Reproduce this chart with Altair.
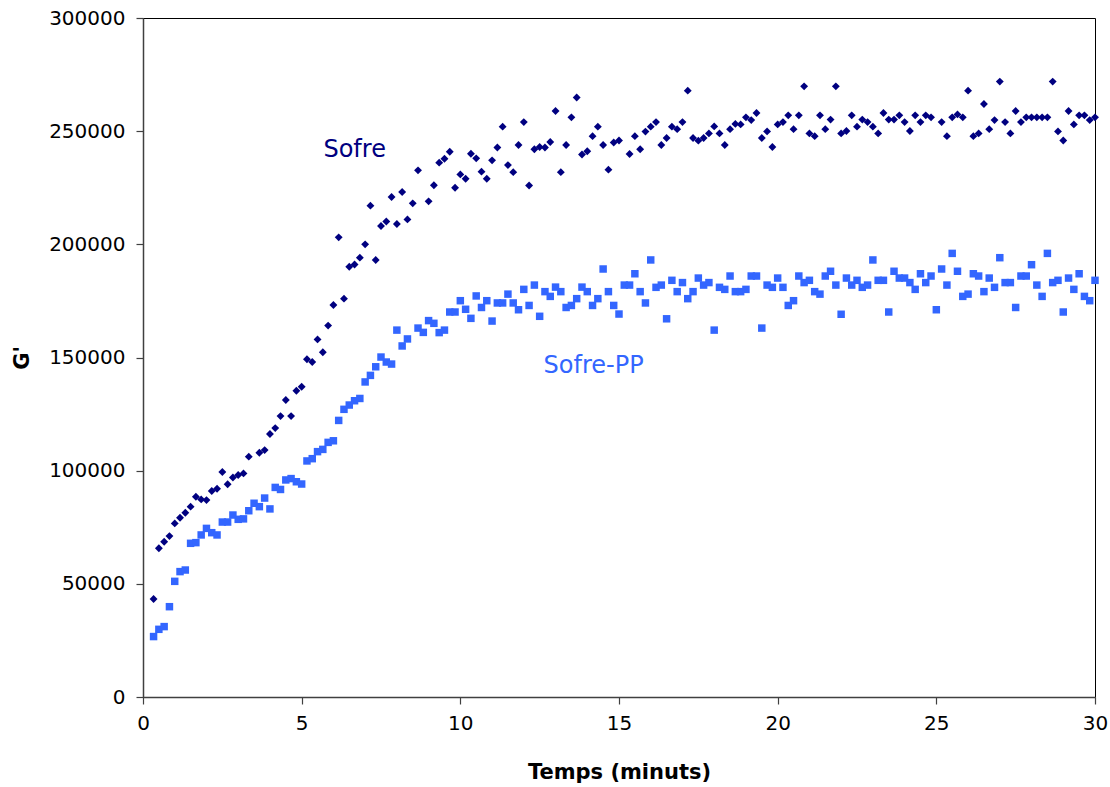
import altair as alt
import pandas as pd

# sampling: every 10 s, from 20 s to 1800 s
sample_seconds = list(range(20, 1801, 10))

sofre = [
    43300, 65700, 68600, 71100, 76700, 79200, 81400, 84100, 88500, 87300,
    87000, 91000, 92000, 99400, 94000, 97000, 98100, 98800, 106200, None,
    107900, 109100, 116200, 118800, 124100, 131200, 124100, 135300, 137100, 149200,
    148000, 158000, 152300, 164100, 173200, 203100, 176000, 190100, 191100, 194100,
    200000, 217100, 193100, 208100, 210100, 220900, 209000, 223100, 211000, 218100,
    232700, None, 219000, 226100, 236100, 237800, 240900, 225000, 230900, 229000,
    240000, 238000, 232100, 229000, 237100, 242800, 252000, 235000, 231900, 243900,
    254000, 226000, 242000, 243000, 242800, 245200, 258900, 231900, 243900, 256100,
    264900, 239700, 241100, 247800, 252000, 243900, 233000, 245000, 245900, None,
    239900, 247800, 242000, 249800, 252000, 254000, 243900, 247000, 252000, 250900,
    254000, 267900, 247000, 245800, 247000, 249000, 252100, 249000, 243900, 250900,
    253200, 253000, 256100, 254900, 258000, 247000, 249900, 243000, 253000, 254000,
    257000, 250900, 257000, 269800, 249000, 247800, 257000, 250900, 255100, 269800,
    249000, 250100, 257000, 252000, 255100, 254000, 252000, 249000, 258000, 255100,
    255100, 257000, 254000, 250100, 257000, 254000, 257000, 256100, None, 254000,
    247800, 256100, 257400, 256100, 267900, 247800, 249000, 262000, 250900, 254900,
    271900, 254000, 249000, 258900, 254000, 256100, 256100, 256100, 256100, 256100,
    271900, 249900, 245900, 258900, 253000, 257000, 257000, 254900, 256100,
]

sofre_pp = [
    26700, 29900, 31100, 39900, 51100, 55400, 56100, 67900, 68200, 71600,
    74500, 72600, 71600, 77300, 77300, 80400, 78500, 78700, 82300, 85600,
    84100, 87900, 83100, 92600, 91700, 95900, 96500, 95100, 94100, 104300,
    105300, 108400, 109400, 112500, 113200, 122200, 127100, 129000, 130900, 131900,
    139200, 142100, 145900, 150200, 148000, 147100, 162100, 155100, 158200, None,
    163000, 161100, 166300, 165100, 161000, 162100, 170100, 170100, 175100, 171300,
    167300, 177200, 172100, 175100, 166100, 174100, 174100, 178000, 174100, 171100,
    180100, 173000, 182000, 168200, 179100, 177000, 181100, 179100, 172100, 173000,
    176000, 181100, 179100, 173000, 176000, 189100, 179100, 173000, 169200, 182000,
    182000, 187000, 179100, 174100, 193100, 181000, 182000, 167100, 184100, 179100,
    183100, 176000, 179100, 185100, 182000, 183100, 162100, 181000, 180100, 186000,
    179100, 179100, 180100, 186000, 186000, 163000, 182000, 181000, 185100, 181000,
    173000, 175100, 186000, 183100, 184100, 179100, 178000, 186000, 188100, 182000,
    169100, 185100, 182000, 184100, 181000, 182000, 193100, 184100, 184100, 170100,
    188100, 185100, 185100, 183100, 180100, 187000, 183100, 186000, 171100, 189100,
    182000, 196000, 188100, 177000, 178000, 187000, 186000, 179100, 185100, 181000,
    194100, 183100, 183100, 172100, 186000, 186000, 191000, 182000, 177000, 196000,
    183100, 184100, 170100, 185100, 180100, 187000, 177000, 175100, 184100,
]

series_names = ["Sofre", "Sofre-PP"]
series_colors = ["#000080", "#3366FF"]

label_text = ["Sofre", "Sofre-PP"]
label_t = [6.67, 14.2]
label_v = [241700, 146200]

x_ticks = [0, 5, 10, 15, 20, 25, 30]
y_ticks = [0, 50000, 100000, 150000, 200000, 250000, 300000]

rows = []
for s, a, b in zip(sample_seconds, sofre, sofre_pp):
    if a is not None:
        rows.append({"t": s / 60.0, "G": a, "series": "Sofre"})
    if b is not None:
        rows.append({"t": s / 60.0, "G": b, "series": "Sofre-PP"})
df = pd.DataFrame(rows)
labels_df = pd.DataFrame({"label": label_text, "t": label_t, "G": label_v, "series": series_names})

FONT = "DejaVu Sans"

x_enc = alt.X(
    "t:Q",
    scale=alt.Scale(domain=[0, 30], nice=False, zero=False),
    axis=alt.Axis(
        values=x_ticks, title="Temps (minuts)", grid=False,
        titleX=476, titleY=75, titleAlign="center", titleBaseline="middle",
        tickSize=7, labelPadding=9, labelFlush=False,
    ),
)
y_enc = alt.Y(
    "G:Q",
    scale=alt.Scale(domain=[0, 300000], nice=False),
    axis=alt.Axis(
        values=y_ticks, title="G'", grid=False, format="d",
        titleX=-121, titleY=339.5, titleAngle=270, titleAlign="center", titleBaseline="middle",
        tickSize=7, labelPadding=11,
    ),
)
color_scale = alt.Scale(domain=series_names, range=series_colors)

base = alt.Chart(df)
pts_sofre = base.transform_filter(alt.datum.series == "Sofre").mark_point(
    shape="diamond", filled=True, opacity=1, size=62, strokeWidth=0
).encode(x=x_enc, y=y_enc, color=alt.Color("series:N", scale=color_scale, legend=None))

pts_pp = base.transform_filter(alt.datum.series == "Sofre-PP").mark_point(
    shape="square", filled=True, opacity=1, size=56, strokeWidth=0
).encode(x=x_enc, y=y_enc, color=alt.Color("series:N", scale=color_scale, legend=None))

text = alt.Chart(labels_df).mark_text(
    font=FONT, fontSize=24, align="center", baseline="middle"
).encode(
    x=alt.X("t:Q"), y=alt.Y("G:Q"), text="label:N",
    color=alt.Color("series:N", scale=color_scale, legend=None),
)

chart = alt.layer(pts_pp, pts_sofre, text).properties(
    width=952, height=679,
    autosize=alt.AutoSizeParams(type="none"),
    padding={"left": 143, "top": 18, "right": 15, "bottom": 90},
    background="white",
).configure_view(
    stroke="#000000", strokeWidth=1
).configure_axis(
    labelFont=FONT, labelFontSize=20, labelColor="#000000",
    titleFont=FONT, titleFontSize=21, titleFontWeight="bold", titleColor="#000000",
    domainColor="#404040", domainWidth=1.5, tickColor="#404040", tickWidth=1.2,
)

chart.save("out.html", embed_options={"renderer": "svg", "actions": False})
